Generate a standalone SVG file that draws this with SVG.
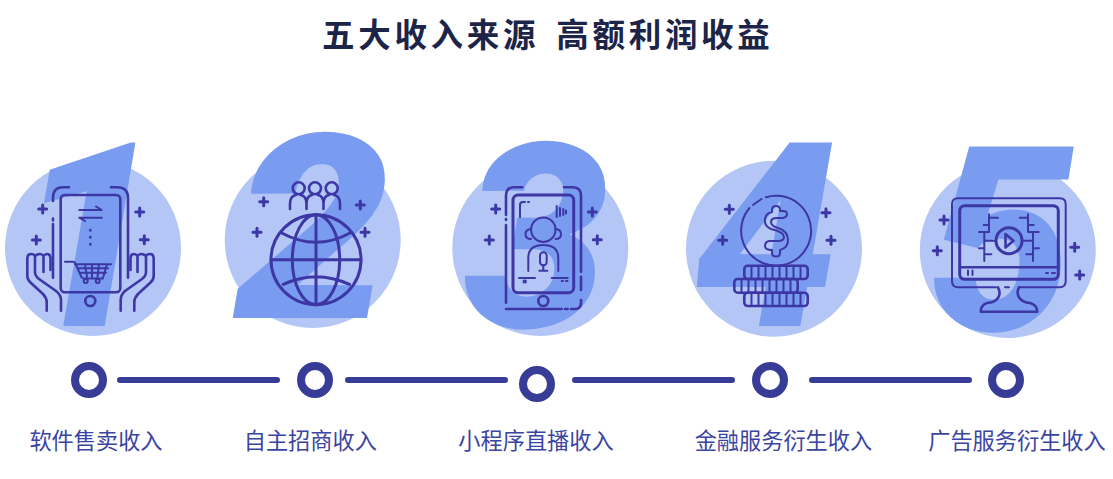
<svg xmlns="http://www.w3.org/2000/svg" width="1113" height="479" viewBox="0 0 1113 479">
<style>
.c{fill:#b3c6f5}
.d{fill:#7a9cf0;font-family:"Roboto","Liberation Sans",sans-serif;font-weight:900;font-style:italic;font-size:258px;text-anchor:middle}
.i{fill:none;stroke:#3c37a5;stroke-width:2;stroke-linecap:round;stroke-linejoin:round}
.t{stroke-width:2.6}
.u{stroke-width:3}
.r{fill:none;stroke:#373d96;stroke-width:8}
.l{fill:#3a44a2;font-family:"Noto Sans CJK SC",sans-serif;font-size:22.2px;text-anchor:middle;font-weight:400}
.h{fill:#1c2548;font-family:"Noto Sans CJK SC",sans-serif;font-size:32.5px;font-weight:700;letter-spacing:3.7px;word-spacing:6px}
.k{fill:none;stroke:#373d96;stroke-width:6;stroke-linecap:round}
</style>
<defs><path id="p" class="i u" d="M-4 0H4M0-4V4"/></defs>
<text id="title" class="h" x="322" y="47" xml:space="preserve">五大收入来源 高额利润收益</text>
<g id="connectors">
<path class="k" d="M120 380H277"/>
<path class="k" d="M348 380H505"/>
<path class="k" d="M575 380H732"/>
<path class="k" d="M812 380H969"/>
</g>
<g id="node1">
<circle class="c" cx="93" cy="248" r="88"/>
<text class="d" x="88" y="326">1</text>
<g class="i">
<rect class="t" x="60.7" y="195" width="59.6" height="97.3" rx="4"/>
<circle class="t" cx="90.3" cy="301" r="5"/>
<path class="t" d="M69 187.3H63Q53 187.3 53 198V201M53 218.5V220.5M53 224V277.7M111 187.3H117Q128 187.3 128 198V277.7"/>
<path d="M79.3 210H101.7L96 206.5M101.7 217.7H79.3L85 221"/>
<path stroke-width="2.6" d="M90.3 230V230.5M90.3 237V237.5M90.3 244V244.5"/>
<path d="M65 261.7H73Q75 261.7 75.5 264L81.7 277.5Q82.5 278.5 84 278.5H103M75 264.3H111M103.3 276.7L107 264.3M78 268.3H108M80 272.7H106M85 264.3L87 277M92 264.3V277M99 264.3L97.5 277"/>
<circle cx="85.7" cy="281" r="2"/><circle cx="97.7" cy="281" r="2"/>
<path class="t" d="M46.7 310.7V302Q46.7 298 43 294L31 283Q27.3 280 27.3 276V259Q27.3 254 31 254Q34 254 35 256Q37 254 40 254Q42 254 43.5 256Q45 254 47 254Q50.5 254 50.5 259V270M35 256V272Q35 276 39 279L56 291Q61 295 61 300V310.7M43.5 256V272"/>
<path class="t" d="M134.3 310.7V302Q134.3 298 138 294L150 283Q153.7 280 153.7 276V259Q153.7 254 150 254Q147 254 146 256Q144 254 141 254Q139 254 137.5 256Q136 254 134 254Q130.5 254 130.5 259V270M146 256V272Q146 276 142 279L125 291Q120.7 295 120.7 300V310.7M137.5 256V272"/>
</g>
<use href="#p" x="42.7" y="209"/><use href="#p" x="36.3" y="240"/><use href="#p" x="139.7" y="212"/><use href="#p" x="144.3" y="239.7"/>
<circle class="r" cx="89" cy="380" r="14"/>
<text class="l" x="96" y="449">软件售卖收入</text>
</g>
<g id="node2">
<circle class="c" cx="312.7" cy="240" r="88"/>
<text class="d" transform="translate(312 318) scale(1.08 1)">2</text>
<g class="i u">
<circle cx="316" cy="259.7" r="45"/>
<ellipse cx="316" cy="259.7" rx="23.7" ry="45"/>
<path d="M316 214.7V304.7M271 259.7H361M281.7 233Q316 251.6 350 233M283.3 284.3Q316 269 349.5 284.3"/>
</g>
<g class="i t">
<circle cx="298.7" cy="188.3" r="6"/><circle cx="315" cy="188.3" r="6"/><circle cx="331.7" cy="188.3" r="6"/>
<path d="M290 209V204Q290 196 296 195M306.5 209V204Q306.5 196 300.5 195M306.5 209V204Q306.5 196 312 195M323.5 209V204Q323.5 196 318 195M323.5 209V204Q323.5 196 329 195M340 209V204Q340 196 334 195"/>
</g>
<use href="#p" x="263.7" y="201.7"/><use href="#p" x="257" y="232.3"/><use href="#p" x="360.3" y="205"/><use href="#p" x="365" y="232.3"/>
<circle class="r" cx="315" cy="380" r="14"/>
<text class="l" x="310.3" y="449">自主招商收入</text>
</g>
<g id="node3">
<circle class="c" cx="540.3" cy="248" r="88"/>
<text class="d" x="536" y="327">3</text>
<g class="i">
<rect class="u" x="513" y="195" width="60.7" height="97.7" rx="5"/>
<circle class="t" cx="543.3" cy="301" r="5"/>
<path class="t" d="M522.3 187.3H514Q506 187.3 506 196V215M506 219V220M506 225V302.7M506 309H561.7M565 309H567.7M571 309H575Q581 309 581 303V300M581 290V276.7M564 187.3H573Q581 187.3 581 196V271.7"/>
<path d="M520 217.3V205Q520 202 523 202H525M528 202H529M556.7 206V217M560 208V216M563.3 209V215M566 210.5V213.5"/>
<circle cx="543.3" cy="229.7" r="12.2"/>
<path d="M531 229Q525.5 229.5 525.5 234Q525.5 239 531 239M555.5 229Q561 229.5 561 234Q561 239 555.5 239"/>
<path d="M528.3 271V258Q528.3 245 543.3 245Q558.3 245 558.3 258V271"/>
<rect x="540" y="252.3" width="6.7" height="13" rx="3.3"/>
<path d="M543.3 265.3V270.7M539.3 270.7H547.3M519 278H535M551.7 278H567.7M523.7 280.5V282.5M525.7 280.5V282.5M561.7 281H563M566 281H567.5"/>
</g>
<use href="#p" x="495.7" y="209"/><use href="#p" x="489.3" y="240"/><use href="#p" x="592.3" y="212"/><use href="#p" x="597.3" y="239.7"/>
<circle class="r" cx="537" cy="384" r="14"/>
<text class="l" x="536" y="449">小程序直播收入</text>
</g>
<g id="node4">
<circle class="c" cx="774" cy="248.7" r="88"/>
<text class="d" x="766" y="326">4</text>
<g class="i">
<path d="M749.5 208A35 35 0 1 0 766 197.2M749.5 208L749 208.5M753 205L761.5 199"/>
<path d="M776 206Q772 206 772 210V212Q766 213 765 219Q764 226 771 229Q784 232 784 237Q784 241 778 241H769Q765 242 765 246Q765 250 772 250V253Q772 256.5 776 256.5Q780 256.5 780 253V250Q788 248 788 240Q788 231 778 228Q771 226 771 222Q771 218 777 218H783Q787 217 787 214Q787 211 783 211H780V210Q780 206 776 206Z"/>
<rect class="t" x="744.3" y="265.7" width="63.4" height="13.3" rx="3.5"/>
<rect class="t" x="734.3" y="279" width="63.4" height="13.7" rx="3.5"/>
<rect class="t" x="744.3" y="292.7" width="63.4" height="13.3" rx="3.5"/>
<path d="M751.5 265.7V279M758.5 265.7V279M765.5 265.7V279M772.5 265.7V279M779.5 265.7V279M786.5 265.7V279M793.5 265.7V279M800.5 265.7V279M741.5 279V292.7M748.5 279V292.7M755.5 279V292.7M762.5 279V292.7M769.5 279V292.7M776.5 279V292.7M783.5 279V292.7M790.5 279V292.7M751.5 292.7V306M758.5 292.7V306M765.5 292.7V306M772.5 292.7V306M779.5 292.7V306M786.5 292.7V306M793.5 292.7V306M800.5 292.7V306"/>
</g>
<use href="#p" x="729.3" y="209.3"/><use href="#p" x="722.7" y="240.3"/><use href="#p" x="826" y="212.7"/><use href="#p" x="831" y="240.3"/>
<circle class="r" cx="770" cy="380" r="14"/>
<text class="l" x="783.4" y="449">金融服务衍生收入</text>
</g>
<g id="node5">
<circle class="c" cx="1007.8" cy="250" r="88"/>
<text class="d" x="1001" y="330">5</text>
<g class="i">
<path d="M996 287.3H958Q952 287.3 952 281V204.3Q952 198.3 958 198.3H1059.7Q1065.7 198.3 1065.7 204.3V281Q1065.7 287.3 1059.7 287.3H1019M1005 287.3H1009"/>
<rect class="u" x="959.7" y="205.7" width="98.6" height="73.6" rx="5"/>
<path class="t" d="M960 267.3H1058"/>
<path class="t" d="M998 287.3C1002 295 998 302 987 303Q980.7 305 980.7 311.7H1037.3Q1037.3 305 1030 303C1020 302 1015 295 1019 287.3"/>
<circle class="u" cx="1009" cy="240.7" r="13"/>
<path class="t" d="M1005.5 234L1013.5 240.7L1005.5 247.5Z"/>
<path d="M989 214.3V231.7M989 217.7H998M983.7 225H989M979 232H989M984.3 232V261M984.3 240.7H995.3M979 248.3H984.3M984.3 254.3H991.3M1028 214.3V231.7M1019.7 217.7H1028M1028 225H1033.7M1028 232H1038.7M1033 232V261M1023 240.7H1033M1033 248.3H1039M1026.3 254.3H1033"/>
<path d="M968 270.5V275M972.5 270.5V275M1046 273H1048M1052 273H1055"/>
</g>
<use href="#p" x="944" y="220"/><use href="#p" x="937.3" y="250.7"/><use href="#p" x="1074.7" y="247.3"/><use href="#p" x="1079.7" y="275"/>
<circle class="r" cx="1006" cy="380" r="14"/>
<text class="l" x="1017" y="449">广告服务衍生收入</text>
</g>
</svg>
